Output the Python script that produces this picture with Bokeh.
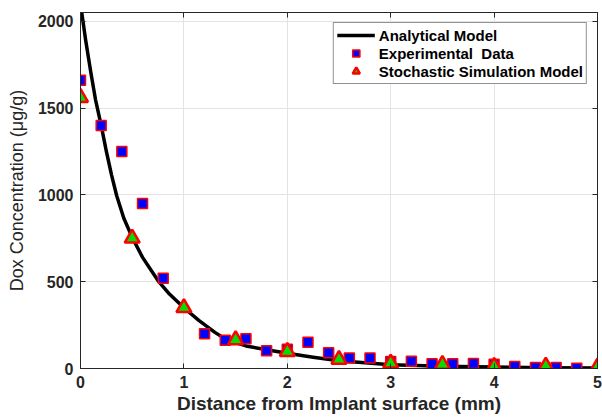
from bokeh.plotting import figure
from bokeh.models import Range1d, LinearAxis, FixedTicker, Legend, LegendItem
from bokeh.embed import file_html
from bokeh.resources import INLINE

# Analytical model curve
model_x = [0.0, 0.05, 0.1, 0.145, 0.2, 0.25, 0.3, 0.35, 0.419, 0.5, 0.6, 0.757, 0.85, 1.0, 1.144,
           1.3, 1.42, 1.6, 1.8, 2.0, 2.25, 2.5, 2.75, 3.0, 3.5, 4.0, 4.5, 5.0]
model_y = [2100, 1890, 1705, 1549, 1400, 1250, 1115, 995, 865, 755, 640, 500, 435, 350, 277,
           208, 163, 130, 108, 88, 65, 45, 33, 22, 13, 8, 5, 3]

# Experimental data
exp_x = [0.0, 0.2, 0.4, 0.6, 0.8, 1.2, 1.4, 1.6, 1.8, 2.0, 2.2, 2.4, 2.6, 2.8, 3.0, 3.2, 3.4,
         3.6, 3.8, 4.0, 4.2, 4.4, 4.6, 4.8]
exp_y = [1660, 1400, 1250, 950, 520, 200, 162, 172, 102, 111, 151, 90, 61, 61, 40, 42, 27,
         27, 29, 25, 11, 6, 6, 2]

# Stochastic simulation
sim_x = [0.0, 0.5, 1.0, 1.5, 2.0, 2.5, 3.0, 3.5, 4.0, 4.5, 5.0]
sim_y = [1560, 750, 350, 165, 97, 52, 30, 23, 11, 13, 8]

x_ticks = [0, 1, 2, 3, 4, 5]
y_ticks = [0, 500, 1000, 1500, 2000]

FONT = "Liberation Sans"
DARK = "#262626"

p = figure(width=602, height=419, output_backend="svg", toolbar_location=None,
           x_range=Range1d(0, 5), y_range=Range1d(0, 2050),
           min_border_left=80, min_border_right=5, min_border_top=12, min_border_bottom=51)
p.background_fill_color = "white"
p.border_fill_color = "white"
p.outline_line_color = DARK
p.outline_line_width = 1

for ax in p.xaxis:
    ax.ticker = FixedTicker(ticks=x_ticks)
for ax in p.yaxis:
    ax.ticker = FixedTicker(ticks=y_ticks)

for ax in list(p.xaxis) + list(p.yaxis):
    ax.major_label_text_font = FONT
    ax.major_label_text_font_style = "bold"
    ax.major_label_text_font_size = "16px"
    ax.major_label_text_color = DARK
    ax.axis_label_text_font = FONT
    ax.axis_label_text_color = DARK
    ax.axis_line_color = DARK
    ax.major_tick_line_color = DARK
    ax.major_tick_in = 5
    ax.major_tick_out = 0
    ax.minor_tick_line_color = None

p.xaxis.axis_label = "Distance from Implant surface (mm)"
p.xaxis.axis_label_text_font_style = "bold"
p.xaxis.axis_label_text_font_size = "19px"
p.yaxis.axis_label = "Dox Concentration (μg/g)"
p.yaxis.axis_label_text_font_style = "normal"
p.yaxis.axis_label_text_font_size = "18px"
p.xaxis.major_label_standoff = 7
p.xaxis.axis_label_standoff = 2
p.yaxis.major_label_standoff = 7
p.yaxis.axis_label_standoff = 8

# top and right axes with inward ticks (box style), no labels
top = LinearAxis(ticker=FixedTicker(ticks=x_ticks), major_label_text_font_size="1px",
                 major_label_text_color=None,
                 major_tick_in=5, major_tick_out=0, minor_tick_line_color=None,
                 axis_line_color=DARK, major_tick_line_color=DARK, major_label_standoff=0)
right = LinearAxis(ticker=FixedTicker(ticks=y_ticks), major_label_text_font_size="1px",
                   major_label_text_color=None,
                   major_tick_in=5, major_tick_out=0, minor_tick_line_color=None,
                   axis_line_color=DARK, major_tick_line_color=DARK, major_label_standoff=0)
p.add_layout(top, "above")
p.add_layout(right, "right")

p.xgrid.ticker = FixedTicker(ticks=x_ticks)
p.ygrid.ticker = FixedTicker(ticks=y_ticks)
p.grid.grid_line_color = "#e3e3e3"
p.grid.grid_line_width = 1

r_line = p.line(model_x, model_y, line_color="black", line_width=3.5, line_join="round")
r_exp = p.scatter(exp_x, exp_y, marker="square", size=10, fill_color="blue",
                  line_color="red", line_width=1.5)
r_sim = p.scatter(sim_x, sim_y, marker="triangle", size=15, fill_color="#00e000",
                  line_color="red", line_width=2.5)

legend = Legend(items=[
    LegendItem(label="Analytical Model", renderers=[r_line]),
    LegendItem(label="Experimental  Data", renderers=[r_exp]),
    LegendItem(label="Stochastic Simulation Model", renderers=[r_sim]),
], location="top_right")
legend.label_text_font = FONT
legend.label_text_font_style = "bold"
legend.label_text_font_size = "15px"
legend.label_text_color = "black"
legend.glyph_width = 38
legend.glyph_height = 18
legend.label_height = 18
legend.spacing = 0
legend.padding = 3
legend.margin = 10
legend.label_standoff = 4
legend.border_line_color = DARK
legend.border_line_width = 1
legend.background_fill_alpha = 1
p.add_layout(legend)

open("out.html", "w").write(file_html(p, INLINE))
